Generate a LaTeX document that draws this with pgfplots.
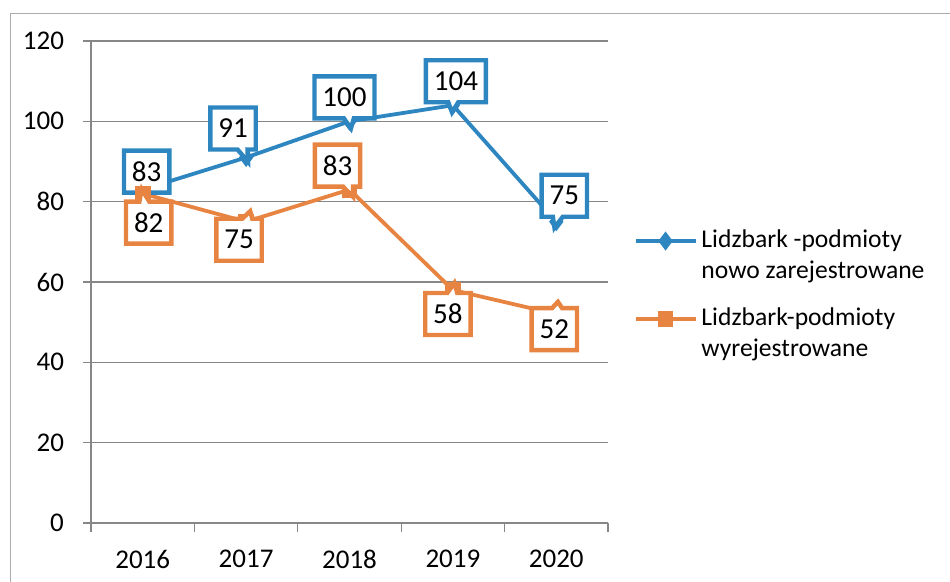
\documentclass[border=0pt]{standalone}
\usepackage{fontspec}
\setmainfont{Carlito}
\usepackage{pgfplots}
\pgfplotsset{compat=1.18}
\usetikzlibrary{shapes.callouts}

\definecolor{serblue}{RGB}{46,134,193}
\definecolor{serorange}{RGB}{232,132,66}
\definecolor{gridgray}{RGB}{135,135,135}

% x = year index, y = value, dx/dy = label offset (pt)
\pgfplotstableread{
x y dx dy
0 83 2 9
1 91 -6.5 14.5
2 100 -2.5 12
3 104 1.5 12
4 75 4 13
}\nowe
\pgfplotstableread{
x y dx dy
0 82 3 -14.5
1 75 -3.5 -9
2 83 -6 12
3 58 -2.5 -12
4 52 -1 -7.5
}\wyrej

\begin{document}
\begin{tikzpicture}
\useasboundingbox (0,0) rectangle (475pt,291pt);
\draw[gridgray!70, line width=0.4pt] (5pt,0) -- (5pt,284.5pt) -- (475pt,284.5pt);
\begin{axis}[
    at={(45.5pt,29.5pt)}, anchor=south west,
    scale only axis,
    width=258.5pt, height=241pt,
    font=\fontsize{13.5}{16}\selectfont,
    /pgf/number format/assume math mode=true,
    xmin=-0.5, xmax=4.5,
    ymin=0, ymax=120,
    xtick={0,...,4},
    xticklabels={2016,2017,2018,2019,2020},
    minor xtick={-0.5,0.5,...,4.5},
    ytick={0,20,...,120},
    axis x line=bottom, axis y line=left,
    axis line style={-, gridgray, line width=0.6pt},
    tick align=outside,
    major x tick style={draw=none},
    minor tick length=4.5pt,
    major tick length=4pt,
    every tick/.style={gridgray, line width=0.6pt},
    ymajorgrids,
    major grid style={gridgray, line width=0.6pt},
    xticklabel style={yshift=-6pt},
    yticklabel style={xshift=-6pt},
    clip=false,
    legend style={draw=none, fill=none, at={(1.045,0.625)}, anchor=north west,
        font=\fontsize{12.8}{15.5}\selectfont,
        row sep=9pt, inner xsep=1pt,
        cells={anchor=west, align=left}},
    legend image code/.code={
        \draw[#1, mark repeat=2, mark phase=2] plot coordinates {(0pt,7.5pt) (15pt,7.5pt) (30pt,7.5pt)};
    },
    nodes near coords,
    visualization depends on={\thisrow{dx} \as \dx},
    visualization depends on={\thisrow{dy} \as \dy},
    every node near coord/.append style={
        anchor=center, xshift=\dx pt, yshift=\dy pt,
        rectangle callout, callout relative pointer={(-0.42*\dx pt,-0.42*\dy pt)},
        callout pointer width=5pt,
        fill=white, line width=2.2pt,
        inner xsep=4pt, minimum height=21pt,
        text=black, font=\fontsize{14.5}{16}\selectfont,
        /pgf/number format/assume math mode=true},
]
\addplot[serblue, line width=1.9pt, mark=diamond*, mark size=3.2pt,
    every node near coord/.append style={draw=serblue}] table[x=x,y=y] {\nowe};
\addplot[serorange, line width=1.9pt, mark=square*, mark size=3pt,
    every node near coord/.append style={draw=serorange}] table[x=x,y=y] {\wyrej};
\legend{Lidzbark -podmioty\\nowo zarejestrowane, Lidzbark-podmioty\\wyrejestrowane}
\end{axis}
\end{tikzpicture}
\end{document}
